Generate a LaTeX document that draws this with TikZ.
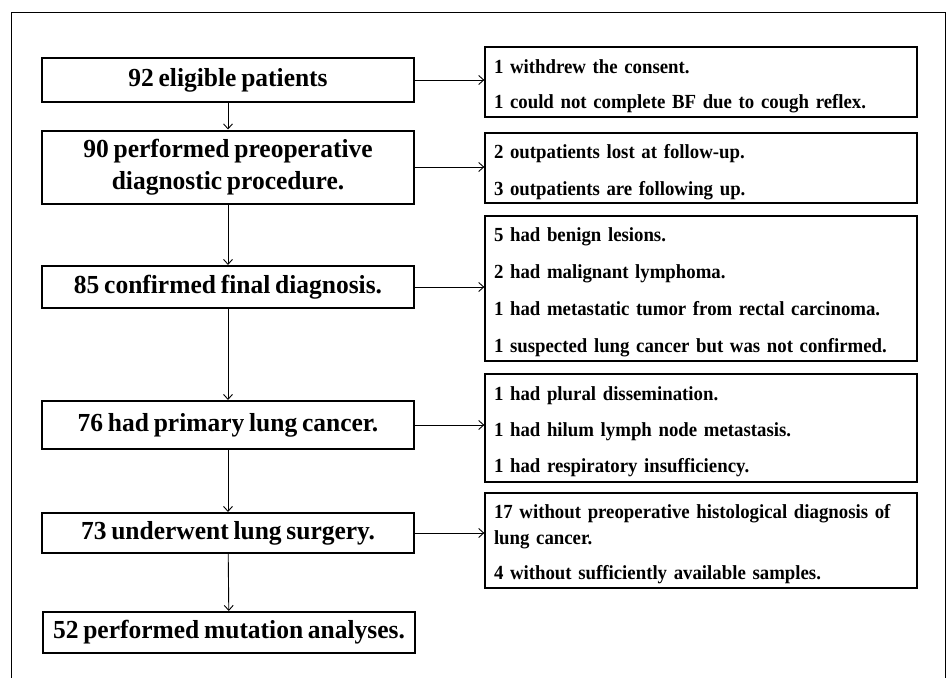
\documentclass[tikz,border=0pt]{standalone}
\usepackage{fontspec}
\setmainfont{Liberation Serif}
\newfontfamily\stepfont{Liberation Serif}[FakeStretch=0.98, WordSpace=0.75]
\newfontfamily\lossfont{Liberation Serif}[FakeStretch=0.94, WordSpace=0.7]
\usetikzlibrary{arrows.meta,positioning}
\tikzset{
    stepbox/.style={draw, line width=2pt, minimum width=372pt, align=center,
        font=\stepfont\bfseries\fontsize{26}{32}\selectfont, inner sep=2pt},
    lossbox/.style={draw, line width=1.3pt, minimum width=432pt, text width=414pt,
        align=left, font=\lossfont\bfseries\fontsize{20}{26}\selectfont,
        inner xsep=9pt, inner ysep=0pt, execute at begin node={\rule{0pt}{22pt}}},
    flowarrow/.style={-{Straight Barb[length=5pt,width=9pt]}, line width=0.9pt}
}
\begin{document}
\begin{tikzpicture}[x=1pt,y=-1pt]
\useasboundingbox (0,0) rectangle (952,677);
% outer frame, cut off at the bottom
\begin{scope}
\clip (0,0) rectangle (952,677);
\draw[line width=1pt] (11,13) rectangle (945,700);
\end{scope}
% main flow
\node[stepbox, minimum height=43pt] (elig) at (228,80) {92 eligible patients};
\node[stepbox, minimum height=73pt] (preop) at (228,167) {90 performed preoperative\\diagnostic procedure.};
\node[stepbox, minimum height=42pt] (final) at (228,287) {85 confirmed final diagnosis.};
\node[stepbox, minimum height=48pt] (primary) at (228,425) {76 had primary lung cancer.};
\node[stepbox, minimum height=40pt] (surgery) at (228,533) {73 underwent lung surgery.};
\node[stepbox, minimum height=41pt] (mutation) at (229,632.5) {52 performed mutation analyses.};
% excluded
\node[lossbox, minimum height=70pt] (excl1) at (701,82) {1 withdrew the consent.\\[9pt]1 could not complete BF due to cough reflex.};
\node[lossbox, minimum height=70pt] (excl2) at (701,168) {2 outpatients lost at follow-up.\\[11pt]3 outpatients are following up.};
\node[lossbox, minimum height=145pt] (excl3) at (701,288.5) {5 had benign lesions.\\[11pt]2 had malignant lymphoma.\\[11pt]1 had metastatic tumor from rectal carcinoma.\\[11pt]1 suspected lung cancer but was not confirmed.};
\node[lossbox, minimum height=108pt] (excl4) at (701,428) {1 had plural dissemination.\\[10pt]1 had hilum lymph node metastasis.\\[10pt]1 had respiratory insufficiency.};
\node[lossbox, minimum height=95pt] (excl5) at (701,540.5) {17 without preoperative histological diagnosis of\\lung cancer.\\[9pt]4 without sufficiently available samples.};
% arrows
\draw[flowarrow] (elig) -- (preop);
\draw[flowarrow] (preop) -- (final);
\draw[flowarrow] (final) -- (primary);
\draw[flowarrow] (primary) -- (surgery);
\draw[flowarrow] (surgery) -- (mutation);
\draw[flowarrow] (elig.east) -- (elig.east -| excl1.west);
\draw[flowarrow] (preop.east) -- (preop.east -| excl2.west);
\draw[flowarrow] (final.east) -- (final.east -| excl3.west);
\draw[flowarrow] (primary.east) -- (primary.east -| excl4.west);
\draw[flowarrow] (surgery.east) -- (surgery.east -| excl5.west);
\end{tikzpicture}
\end{document}
